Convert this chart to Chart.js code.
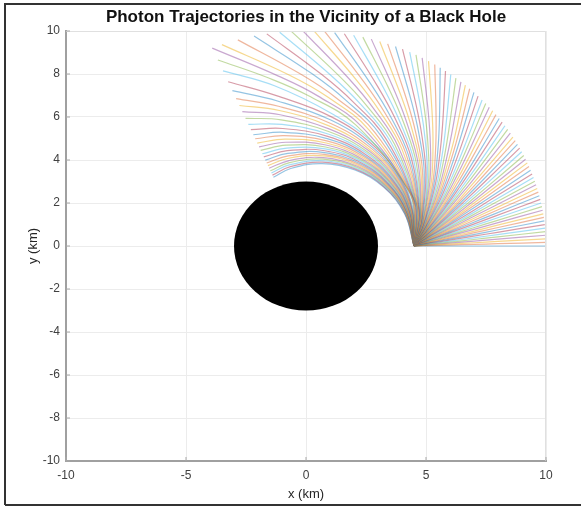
<!DOCTYPE html>
<html><head><meta charset="utf-8">
<script src="https://cdn.jsdelivr.net/npm/chart.js@4.4.1/dist/chart.umd.min.js"></script>
<style>html,body{margin:0;padding:0;background:#fff;}canvas{display:block;}</style>
</head><body>
<canvas id="c" width="581" height="506"></canvas>
<script>
// ---- data ----
const chartTitle = 'Photon Trajectories in the Vicinity of a Black Hole';
const xTicks = [-10, -5, 0, 5, 10];
const yTicks = [-10, -8, -6, -4, -2, 0, 2, 4, 6, 8, 10];
const holeRadius = 3;          // km
const sourceRadius = 4.5;      // km, emission point on +x axis
// escaping photons (emission angles 0..73 deg): polar angle (deg) reached at these radii
const radiusSamples = [4.5, 4.75, 5, 6, 7, 8, 10];
const escapeAngles = [0,1,2,3,4,5,6,7,8,9,10,11,12,13,14,15,16,17,18,19,20,21,22,23,24,25,26,27,28,29,30,31,32,33,34,35,36,37,38,39,40,41,42,43,44,45,46,47,48,49,50,51,52,53,54,55,56,57,58,59,60,61,62,63,64,65,66,67,68,69,70,71,72,73];
const escapePhi = [
  [0,0,0,0,0,0,0],
  [0,0.09,0.17,0.43,0.62,0.76,0.96],
  [0,0.18,0.35,0.87,1.24,1.52,1.91],
  [0,0.27,0.52,1.30,1.86,2.28,2.86],
  [0,0.36,0.70,1.74,2.48,3.04,3.82],
  [0,0.46,0.87,2.17,3.10,3.80,4.77],
  [0,0.55,1.05,2.61,3.73,4.57,5.73],
  [0,0.64,1.22,3.05,4.35,5.33,6.69],
  [0,0.73,1.40,3.49,4.98,6.10,7.65],
  [0,0.82,1.57,3.92,5.60,6.86,8.61],
  [0,0.92,1.75,4.36,6.23,7.63,9.58],
  [0,1.01,1.93,4.81,6.87,8.42,10.56],
  [0,1.11,2.11,5.27,7.52,9.21,11.55],
  [0,1.20,2.29,5.72,8.16,9.99,12.53],
  [0,1.30,2.48,6.18,8.81,10.78,13.52],
  [0,1.40,2.66,6.63,9.46,11.57,14.51],
  [0,1.50,2.85,7.10,10.13,12.39,15.52],
  [0,1.60,3.04,7.57,10.79,13.20,16.53],
  [0,1.70,3.23,8.05,11.46,14.02,17.55],
  [0,1.80,3.42,8.52,12.13,14.83,18.56],
  [0,1.90,3.61,8.99,12.80,15.65,19.58],
  [0,2.00,3.81,9.49,13.50,16.50,20.64],
  [0,2.11,4.01,9.99,14.21,17.36,21.70],
  [0,2.22,4.21,10.49,14.91,18.21,22.75],
  [0,2.33,4.42,10.99,15.62,19.07,23.81],
  [0,2.44,4.62,11.49,16.33,19.92,24.87],
  [0,2.55,4.84,12.03,17.09,20.83,26.00],
  [0,2.66,5.06,12.56,17.84,21.74,27.10],
  [0,2.78,5.28,13.10,18.60,22.66,28.22],
  [0,2.90,5.50,13.64,19.35,23.57,29.33],
  [0,3.02,5.72,14.18,20.11,24.48,30.45],
  [0,3.14,5.96,14.77,20.93,25.46,31.64],
  [0,3.27,6.20,15.36,21.75,26.44,32.83],
  [0,3.39,6.44,15.95,22.56,27.42,34.01],
  [0,3.52,6.69,16.54,23.38,28.40,35.20],
  [0,3.66,6.93,17.13,24.20,29.38,36.39],
  [0,3.80,7.20,17.79,25.10,30.45,37.67],
  [0,3.94,7.47,18.44,26.00,31.51,38.95],
  [0,4.08,7.75,19.10,26.91,32.58,40.23],
  [0,4.23,8.02,19.75,27.81,33.65,41.51],
  [0,4.38,8.29,20.41,28.71,34.72,42.80],
  [0,4.54,8.60,21.16,29.72,35.90,44.20],
  [0,4.70,8.92,21.91,30.73,37.09,45.60],
  [0,4.87,9.23,22.65,31.74,38.17,47.00],
  [0,5.04,9.55,23.40,32.76,39.26,48.40],
  [0,5.22,9.87,24.15,33.77,40.65,49.80],
  [0,5.40,10.24,25.02,34.93,42.00,51.35],
  [0,5.60,10.61,25.88,36.08,43.33,52.90],
  [0,5.80,10.99,26.75,37.24,44.66,54.46],
  [0,6.01,11.36,27.62,38.40,46.00,56.00],
  [0,6.22,11.74,28.49,39.55,47.34,57.56],
  [0,6.45,12.20,29.52,40.90,48.87,59.30],
  [0,6.68,12.66,30.56,42.24,50.40,61.05],
  [0,6.93,13.08,31.53,43.52,51.85,62.72],
  [0,7.18,13.50,32.50,44.80,53.30,64.40],
  [0,7.45,14.03,33.66,46.27,55.00,66.29],
  [0,7.73,14.55,34.80,47.70,56.60,68.10],
  [0,8.03,15.12,36.05,49.30,58.40,70.10],
  [0,8.34,15.70,37.30,50.90,60.20,72.10],
  [0,8.68,16.32,38.65,52.60,62.09,74.20],
  [0,9.02,16.94,39.99,54.29,63.98,76.30],
  [0,9.40,17.67,41.50,56.15,66.04,78.55],
  [0,9.79,18.40,43.00,58.00,68.10,80.80],
  [0,10.22,19.17,44.60,59.95,70.25,83.15],
  [0,10.66,19.95,46.20,61.90,72.40,85.50],
  [0,11.16,20.83,48.02,64.11,74.75,88.04],
  [0,11.66,21.80,50.00,66.40,77.20,90.70],
  [0,12.25,22.90,52.05,68.85,79.85,93.50],
  [0,12.84,24.00,54.10,71.30,82.50,96.30],
  [0,13.53,25.18,56.34,73.91,85.28,99.40],
  [0,14.22,26.35,58.58,76.52,88.07,102.5],
  [0,15.05,27.90,61.29,79.61,91.63,106.5],
  [0,15.89,29.50,64.00,82.70,95.20,110.5],
  [0,16.90,31.20,66.90,86.00,98.40,113.0]
];
// trajectory (74 deg) that stops at the angular limit before r = 10
const partialRadius = [4.5, 4.75, 5, 6, 7, 8, 9.4];
const partialPhi = [0, 18.0, 32.9, 69.8, 89.3, 101.6, 113];
// near-critical photons (emission angles 75..97 deg): radius (km) at these polar angles (deg)
const orbitAngles = [75,76,77,78,79,80,81,82,83,84,85,86,87,88,89,90,91,92,93,94,95,96,97,98];
const orbitPhiSamples = [0, 20, 40, 60, 80, 100, 113];
const orbitRadius = [
  [4.5,4.760,5.090,5.560,6.25,7.57,8.85],
  [4.5,4.743,5.047,5.479,6.10,7.10,8.30],
  [4.5,4.724,5.002,5.392,5.95,6.85,7.85],
  [4.5,4.705,4.958,5.309,5.80,6.60,7.45],
  [4.5,4.687,4.915,5.228,5.66,6.40,7.10],
  [4.5,4.669,4.873,5.151,5.53,6.20,6.79],
  [4.5,4.651,4.833,5.076,5.41,5.96,6.45],
  [4.5,4.634,4.793,5.004,5.29,5.74,6.15],
  [4.5,4.617,4.754,4.934,5.18,5.55,5.88],
  [4.5,4.599,4.715,4.866,5.07,5.37,5.62],
  [4.5,4.582,4.678,4.801,4.967,5.21,5.42],
  [4.5,4.566,4.641,4.738,4.866,5.05,5.20],
  [4.5,4.549,4.605,4.676,4.769,4.90,5.01],
  [4.5,4.532,4.569,4.615,4.676,4.761,4.834],
  [4.5,4.516,4.534,4.557,4.586,4.626,4.660],
  [4.5,4.5,4.5,4.5,4.5,4.5,4.5],
  [4.5,4.484,4.466,4.443,4.414,4.374,4.340],
  [4.5,4.468,4.432,4.388,4.331,4.256,4.192],
  [4.5,4.452,4.399,4.334,4.252,4.145,4.06],
  [4.5,4.436,4.366,4.281,4.174,4.036,3.93],
  [4.5,4.421,4.334,4.230,4.100,3.935,3.80],
  [4.5,4.405,4.302,4.179,4.027,3.84,3.69],
  [4.5,4.389,4.270,4.130,3.958,3.748,3.58],
  [4.5,4.373,4.239,4.081,3.89,3.66,3.475]
];

// ---- styling ----
const lineColors = ['rgba(0,114,189,0.42)','rgba(217,83,25,0.42)','rgba(237,177,32,0.5)','rgba(126,47,142,0.42)','rgba(119,172,48,0.45)','rgba(77,190,238,0.5)','rgba(162,20,47,0.42)'];
const FONT = "'Liberation Sans', Arial, Helvetica, sans-serif";

function polarPoints(radii, phis) {
  return radii.map((r, k) => {
    const a = phis[k] * Math.PI / 180;
    return {x: r * Math.cos(a), y: r * Math.sin(a)};
  });
}

const paths = [];
escapePhi.forEach((row, i) => paths.push({ang: escapeAngles[i], pts: polarPoints(radiusSamples, row)}));
paths.push({ang: 74, pts: polarPoints(partialRadius, partialPhi)});
orbitRadius.forEach((row, i) => paths.push({ang: orbitAngles[i], pts: polarPoints(row, orbitPhiSamples)}));

const datasets = paths.map((p, i) => ({
  label: 'emission ' + p.ang + '°',
  data: p.pts,
  showLine: true,
  borderColor: lineColors[i % lineColors.length],
  borderWidth: 1.2,
  pointRadius: 0,
  pointHoverRadius: 0,
  tension: 0.4,
  fill: false
}));

const framePlugin = {
  id: 'frame',
  beforeDraw(chart) {
    const ctx = chart.ctx;
    ctx.save();
    ctx.fillStyle = '#fff';
    ctx.fillRect(0, 0, chart.width, chart.height);
    ctx.strokeStyle = '#333';
    ctx.lineWidth = 2;
    ctx.beginPath();
    ctx.moveTo(5, 505); ctx.lineTo(5, 4); ctx.lineTo(581, 4);
    ctx.moveTo(5, 505); ctx.lineTo(581, 505);
    ctx.stroke();
    ctx.restore();
  },
  afterDatasetsDraw(chart) {
    const {ctx, chartArea: a, scales: {x, y}} = chart;
    const cx = x.getPixelForValue(0), cy = y.getPixelForValue(0);
    const rx = Math.abs(x.getPixelForValue(holeRadius) - cx);
    const ry = Math.abs(y.getPixelForValue(holeRadius) - cy);
    ctx.save();
    ctx.beginPath();
    ctx.ellipse(cx, cy, rx, ry, 0, 0, Math.PI * 2);
    ctx.fillStyle = '#000';
    ctx.fill();
    ctx.strokeStyle = '#e0e0e0';
    ctx.lineWidth = 1;
    ctx.beginPath();
    ctx.moveTo(a.left, a.top + 0.5); ctx.lineTo(a.right - 0.5, a.top + 0.5); ctx.lineTo(a.right - 0.5, a.bottom);
    ctx.stroke();
    // small inward tick marks (MATLAB style)
    ctx.strokeStyle = '#a8a8a8';
    ctx.beginPath();
    x.ticks.forEach(t => { const px = x.getPixelForValue(t.value); ctx.moveTo(px, a.bottom); ctx.lineTo(px, a.bottom - 4); });
    y.ticks.forEach(t => { const py = y.getPixelForValue(t.value); ctx.moveTo(a.left, py); ctx.lineTo(a.left + 4, py); });
    ctx.stroke();
    ctx.restore();
  }
};

new Chart(document.getElementById('c'), {
  type: 'scatter',
  data: {datasets},
  plugins: [framePlugin],
  options: {
    responsive: false,
    animation: false,
    devicePixelRatio: 1,
    layout: {padding: {left: 0, right: 35, top: 0, bottom: 0}},
    plugins: {
      legend: {display: false},
      tooltip: {enabled: false},
      title: {display: true, fullSize: false, text: chartTitle, color: '#111',
        font: {family: FONT, size: 17, weight: 'bold'}, padding: {top: 6.8, bottom: 3.8}}
    },
    scales: {
      x: {
        type: 'linear', min: -10, max: 10,
        afterBuildTicks: s => { s.ticks = xTicks.map(v => ({value: v})); },
        afterFit: s => { s.height = 45; },
        grid: {color: '#ececec', drawTicks: false},
        border: {color: '#a0a0a0', width: 2},
        ticks: {color: '#404040', font: {family: FONT, size: 12}, padding: 7},
        title: {display: true, text: 'x (km)', color: '#262626', font: {family: FONT, size: 13}, padding: {top: 0, bottom: 4.2}}
      },
      y: {
        type: 'linear', min: -10, max: 10,
        afterBuildTicks: s => { s.ticks = yTicks.map(v => ({value: v})); },
        afterFit: s => { s.width = 66; },
        grid: {color: '#ececec', drawTicks: false},
        border: {color: '#a0a0a0', width: 2},
        ticks: {color: '#404040', font: {family: FONT, size: 12}, padding: 6},
        title: {display: true, text: 'y (km)', color: '#262626', font: {family: FONT, size: 13}, padding: {top: 25.2, bottom: 0}}
      }
    }
  }
});
</script>
</body></html>
